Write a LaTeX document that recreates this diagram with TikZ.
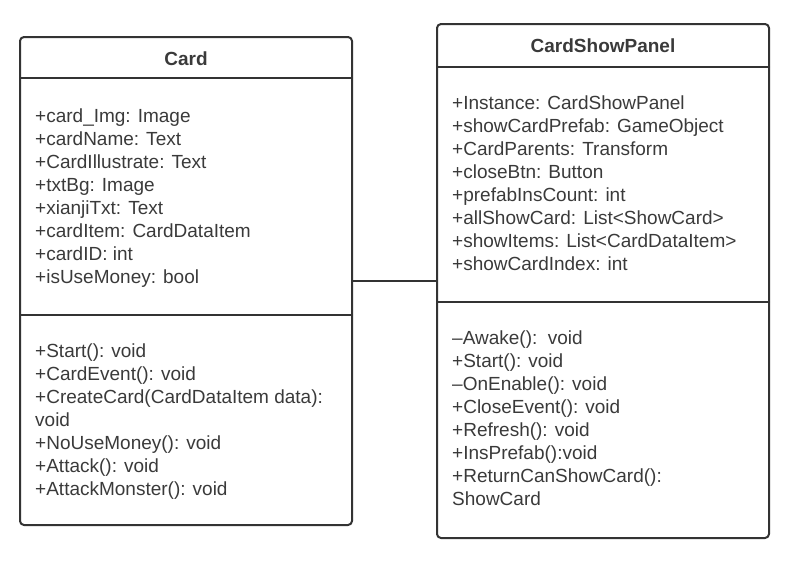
\documentclass[tikz,border=0pt]{standalone}
\usepackage{fontspec}
\setmainfont{Liberation Sans}
\usepackage{xcolor}
\usetikzlibrary{positioning}
\definecolor{umlline}{HTML}{333333}
\definecolor{umltext}{HTML}{3A3A3A}
\tikzset{
  classbox/.style={draw=umlline, line width=2pt, rounded corners=4pt, minimum width=332pt, inner sep=0pt},
  divider/.style={draw=umlline, line width=2pt},
  assoc/.style={draw=umlline, line width=2pt},
  classname/.style={font=\fontsize{19}{23}\selectfont\bfseries, text=umltext, anchor=base, inner sep=0pt},
  member/.style={font=\fontsize{19}{23}\selectfont, text=umltext, anchor=base west, inner sep=0pt},
  every picture/.style={line cap=round, line join=round}
}

\begin{document}
\begin{tikzpicture}[x=1pt, y=-1pt]
  \useasboundingbox (0,0) rectangle (800,563);
  % classes
  \node[classbox, minimum height=488pt] (card) at (186,281) {};
  \node[classbox, minimum height=514pt] (panel) at (603,281) {};
  \draw[divider] (20,78) -- (352,78);
  \draw[divider] (20,315) -- (352,315);
  \draw[divider] (437,67) -- (769,67);
  \draw[divider] (437,302) -- (769,302);
  \node[classname] (card-name) at (186,65) {Card};
  \node[classname] (panel-name) at (603,52) {CardShowPanel};
  % Card members
  \foreach \txt [count=\i] in {{+card\_Img: Image}, {+cardName: Text}, {+CardIllustrate: Text},
      {+txtBg: Image}, {+xianjiTxt: Text}, {+cardItem: CardDataItem}, {+cardID: int}, {+isUseMoney: bool}}
    \node[member] (card-a\i) at (35,{122+23*(\i-1)}) {\txt};
  \foreach \txt [count=\i] in {{+Start(): void}, {+CardEvent(): void}, {+CreateCard(CardDataItem data):},
      {void}, {+NoUseMoney(): void}, {+Attack(): void}, {+AttackMonster(): void}}
    \node[member] (card-m\i) at (35,{357+23*(\i-1)}) {\txt};
  % CardShowPanel members
  \foreach \txt [count=\i] in {{+Instance: CardShowPanel}, {+showCardPrefab: GameObject}, {+CardParents: Transform},
      {+closeBtn: Button}, {+prefabInsCount: int}, {+allShowCard: List<ShowCard>},
      {+showItems: List<CardDataItem>}, {+showCardIndex: int}}
    \node[member] (panel-a\i) at (452,{109+23*(\i-1)}) {\txt};
  \foreach \txt [count=\i] in {{\textendash Awake():\ \ void}, {+Start(): void}, {\textendash OnEnable(): void},
      {+CloseEvent(): void}, {+Refresh(): void}, {+InsPrefab():void}, {+ReturnCanShowCard():}, {ShowCard}}
    \node[member] (panel-m\i) at (452,{344+23*(\i-1)}) {\txt};
  % association
  \draw[assoc] (card.east) -- (panel.west);
\end{tikzpicture}
\end{document}
